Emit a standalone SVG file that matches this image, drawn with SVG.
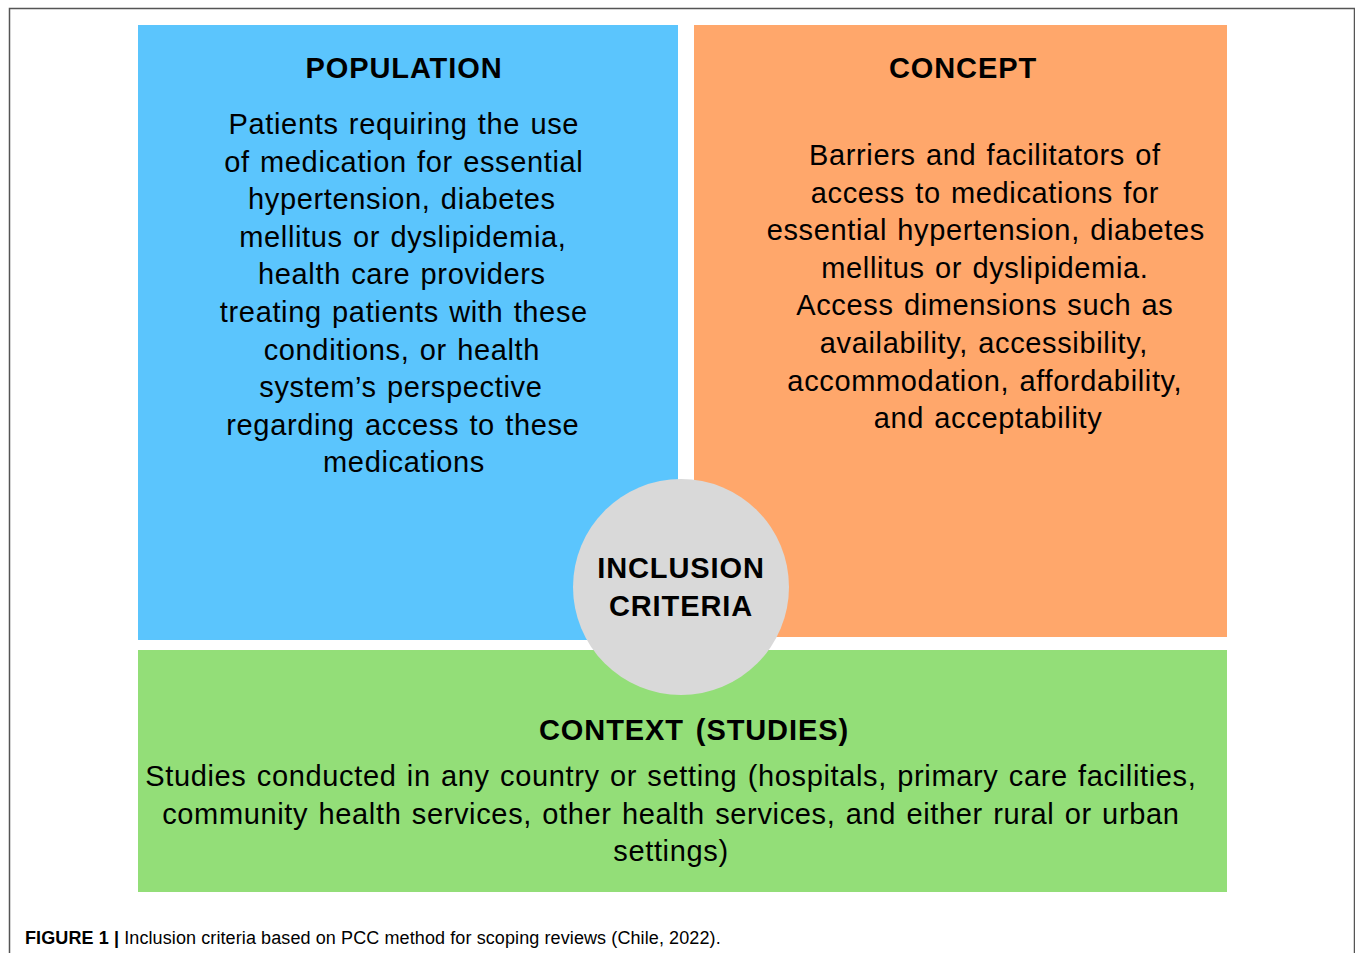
<svg xmlns="http://www.w3.org/2000/svg" width="1355" height="953" viewBox="0 0 1355 953">
<style>
.t{font-family:"Liberation Sans",Arial,sans-serif;font-size:29px;letter-spacing:0.65px;word-spacing:1.6px;fill:#000;text-anchor:middle}
.h{font-weight:bold;letter-spacing:0.9px;word-spacing:3px}
.cap{font-family:"Liberation Sans",Arial,sans-serif;font-size:18px;letter-spacing:0.1px;fill:#000}
</style>
<rect width="1355" height="953" fill="#fff"/>
<path d="M9.5 953 V8.5 H1354.5 V953" fill="none" stroke="#555" stroke-width="1.5"/>
<g id="population">
<rect x="138" y="25" width="540" height="615" fill="#5BC5FD"/>
<text class="t h" x="404" y="78">POPULATION</text>
<text class="t">
<tspan x="409" y="134">Patients requiring the use</tspan>
<tspan x="409" y="171.6">of medication for essential</tspan>
<tspan x="407" y="209.2">hypertension, diabetes</tspan>
<tspan x="408" y="246.8">mellitus or dyslipidemia,</tspan>
<tspan x="407" y="284.4">health care providers</tspan>
<tspan x="409" y="322">treating patients with these</tspan>
<tspan x="407" y="359.6">conditions, or health</tspan>
<tspan x="406" y="397.2">system’s perspective</tspan>
<tspan x="408" y="434.8">regarding access to these</tspan>
<tspan x="404" y="472.4">medications</tspan>
</text>
</g>
<g id="concept">
<rect x="694" y="25" width="533" height="612" fill="#FFA76B"/>
<text class="t h" x="963" y="78">CONCEPT</text>
<text class="t">
<tspan x="990" y="165">Barriers and facilitators of</tspan>
<tspan x="990" y="202.6">access to medications for</tspan>
<tspan x="991" y="240.2">essential hypertension, diabetes</tspan>
<tspan x="990" y="277.8">mellitus or dyslipidemia.</tspan>
<tspan x="990" y="315.4">Access dimensions such as</tspan>
<tspan x="989" y="353">availability, accessibility,</tspan>
<tspan x="990" y="390.6">accommodation, affordability,</tspan>
<tspan x="988" y="428.2">and acceptability</tspan>
</text>
</g>
<g id="context">
<rect x="138" y="650" width="1089" height="242" fill="#93DE78"/>
<text class="t h" x="694" y="740">CONTEXT (STUDIES)</text>
<text class="t">
<tspan x="676" y="786">Studies conducted in any country or setting (hospitals, primary care facilities,</tspan>
<tspan x="676" y="823.6">community health services, other health services, and either rural or urban</tspan>
<tspan x="671" y="861.2">settings)</tspan>
</text>
</g>
<g id="inclusion">
<circle cx="681" cy="587" r="108" fill="#D9D9D9"/>
<text class="t h" x="681" y="578">INCLUSION</text>
<text class="t h" x="681" y="616">CRITERIA</text>
</g>
<g id="connectors"/>
<text class="cap" x="25" y="944"><tspan font-weight="bold">FIGURE 1 |</tspan> Inclusion criteria based on PCC method for scoping reviews (Chile, 2022).</text>
</svg>
